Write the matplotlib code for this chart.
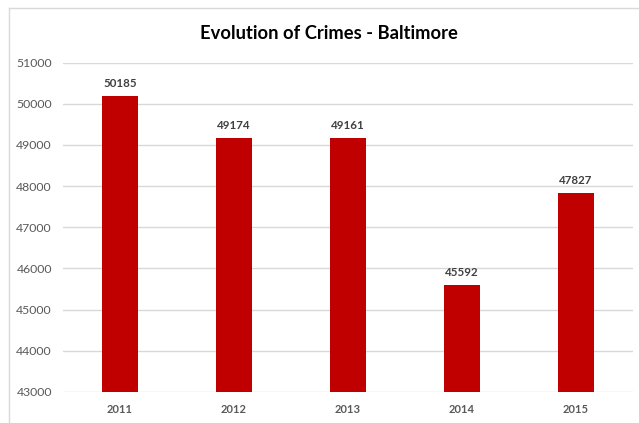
import matplotlib.pyplot as plt
from matplotlib.lines import Line2D

years = ["2011", "2012", "2013", "2014", "2015"]
crimes = [50185, 49174, 49161, 45592, 47827]

plt.rcParams['font.family'] = ['Lato', 'DejaVu Sans']

fig = plt.figure(figsize=(6.39, 4.23), dpi=100)
ax = fig.add_axes([0.0986, 0.0733, 0.892, 0.7789])

x = range(len(years))
bars = ax.bar(x, crimes, width=0.31, color="#C00000", bottom=0, zorder=3)

ax.set_xlim(-0.5, 4.5)
ax.set_ylim(43000, 51000)
ax.set_yticks(range(43000, 51001, 1000))
ax.set_xticks(list(x))
ax.set_xticklabels(years, fontweight="bold")
ax.tick_params(axis="x", length=0, pad=9, labelsize=8, labelcolor="#595959")
ax.tick_params(axis="y", length=0, pad=8, labelsize=8.8, labelcolor="#595959")
ax.grid(axis="y", color="#D9D9D9", linewidth=1, zorder=0)
for s in ax.spines.values():
    s.set_visible(False)

# value labels above each bar
for xi, v in zip(x, crimes):
    ax.annotate(str(v), (xi, v), xytext=(0, 5), textcoords="offset points",
                ha="center", va="bottom", fontsize=8.3, fontweight="bold",
                color="#404040")

fig.text(0.515, 0.92, "Evolution of Crimes - Baltimore", ha="center",
         va="center", fontsize=13.2, fontweight="bold", color="black")

# chart frame (left and top edges)
fig.add_artist(Line2D([9 / 639, 9 / 639], [0, 1 - 8 / 423],
                      transform=fig.transFigure, color="#D9D9D9", lw=1))
fig.add_artist(Line2D([9 / 639, 1], [1 - 8 / 423, 1 - 8 / 423],
                      transform=fig.transFigure, color="#D9D9D9", lw=1))

fig.savefig("out.png", dpi=100)
